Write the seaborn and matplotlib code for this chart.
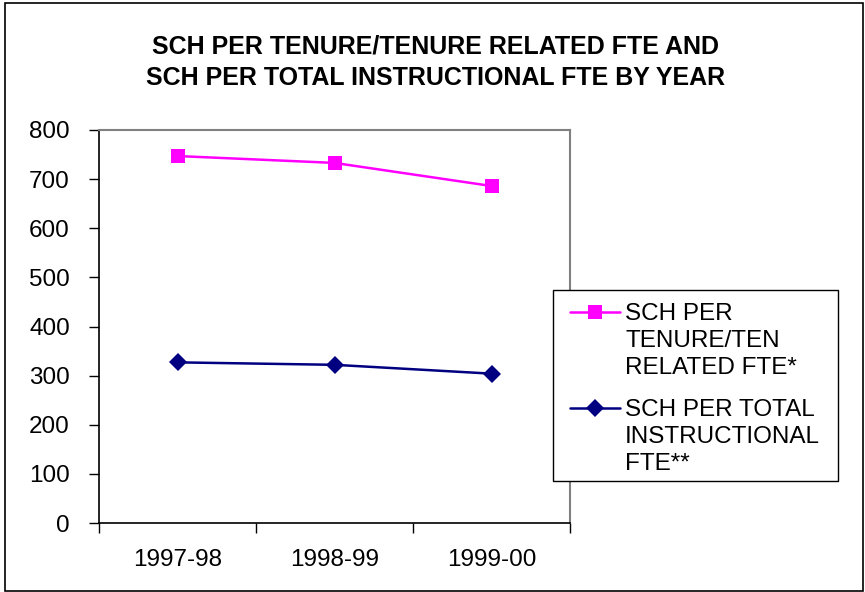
import matplotlib
matplotlib.use("Agg")
import matplotlib.pyplot as plt
from matplotlib.patches import Rectangle
from matplotlib.lines import Line2D
from matplotlib.ticker import FixedLocator, NullFormatter
import seaborn as sns
import pandas as pd

years = ["1997-98", "1998-99", "1999-00"]
sch_per_tenure = [747, 733, 686]
sch_per_total = [327, 322, 304]
series_names = ["SCH PER\nTENURE/TEN\nRELATED FTE*",
                "SCH PER TOTAL\nINSTRUCTIONAL\nFTE**"]
series_colors = ["#FF00FF", "#000080"]
series_markers = ["s", "D"]
y_ticks = [0, 100, 200, 300, 400, 500, 600, 700, 800]

sns.set_theme(style="white")
plt.rcParams["font.family"] = ["Liberation Sans", "DejaVu Sans"]
plt.rcParams["text.color"] = "black"
plt.rcParams["xtick.color"] = "black"
plt.rcParams["ytick.color"] = "black"
plt.rcParams["xtick.labelcolor"] = "black"
plt.rcParams["ytick.labelcolor"] = "black"

W, H = 865, 592


def fx(px):
    return px / W


def fy(py):
    return 1 - py / H


df = pd.DataFrame({
    "pos": list(range(len(years))) * 2,
    "value": sch_per_tenure + sch_per_total,
    "series": [series_names[0]] * len(years) + [series_names[1]] * len(years),
})

fig = plt.figure(figsize=(W / 100, H / 100), dpi=100)
ax = fig.add_axes([fx(99), fy(523), (570 - 99) / W, (523 - 130) / H])

marker_sizes = {"s": 10.5, "D": 9.5}
sns.lineplot(data=df, x="pos", y="value", hue="series", style="series",
             markers=dict(zip(series_names, series_markers)),
             dashes=False,
             palette=dict(zip(series_names, series_colors)),
             linewidth=1.8, markeredgewidth=0, legend=False, ax=ax)
for ln in ax.lines:
    m = ln.get_marker()
    if m in marker_sizes:
        ln.set_markersize(marker_sizes[m])

ax.set_xlim(-0.5, len(years) - 0.5)
ax.set_ylim(0, 800)
ax.set_yticks(y_ticks)
ax.set_yticklabels([str(v) for v in y_ticks], fontsize=17.5)
ax.set_xticks(range(len(years)))
ax.set_xticklabels(years, fontsize=17.5)
ax.tick_params(axis="x", which="major", length=0, pad=19)
ax.xaxis.set_minor_locator(FixedLocator([i - 0.5 for i in range(len(years) + 1)]))
ax.xaxis.set_minor_formatter(NullFormatter())
ax.tick_params(axis="x", which="minor", bottom=True, length=7, width=1,
               color="black", direction="out")
ax.tick_params(axis="y", left=True, length=7, width=1, color="black",
               direction="out", pad=14)
ax.set_xlabel("")
ax.set_ylabel("")

for side in ("left", "bottom"):
    ax.spines[side].set_color("black")
    ax.spines[side].set_linewidth(1.2)
for side in ("top", "right"):
    ax.spines[side].set_color("#808080")
    ax.spines[side].set_linewidth(1.5)

# legend box with handles aligned to the first line of each label
fig.patches.append(Rectangle((fx(553), fy(481)), (838 - 553) / W, (481 - 290) / H,
                             transform=fig.transFigure, fill=True,
                             facecolor="white", edgecolor="black",
                             linewidth=1.0, zorder=5))
entry_first_line = [312, 408]
line_step = 26.7
for name, color, marker, y0 in zip(series_names, series_colors,
                                   series_markers, entry_first_line):
    fig.lines.append(Line2D([fx(570), fx(620)], [fy(y0), fy(y0)],
                            transform=fig.transFigure, color=color,
                            linewidth=1.8, zorder=6))
    fig.lines.append(Line2D([fx(595)], [fy(y0)], transform=fig.transFigure,
                            color=color, marker=marker, linestyle="none",
                            markersize=marker_sizes[marker], markeredgewidth=0,
                            zorder=7))
    for i, part in enumerate(name.split("\n")):
        fig.text(fx(625), fy(y0 + i * line_step), part, ha="left",
                 va="center_baseline", fontsize=17.5, zorder=7)

fig.text(0.503, fy(47), "SCH PER TENURE/TENURE RELATED FTE AND",
         ha="center", va="center", fontsize=18, fontweight="bold")
fig.text(0.503, fy(78), "SCH PER TOTAL INSTRUCTIONAL FTE BY YEAR",
         ha="center", va="center", fontsize=18, fontweight="bold")

fig.patches.append(Rectangle((fx(5), fy(591)), 858 / W, 588 / H,
                             transform=fig.transFigure, fill=False,
                             edgecolor="black", linewidth=1.2))

fig.savefig("out.png", dpi=100)
